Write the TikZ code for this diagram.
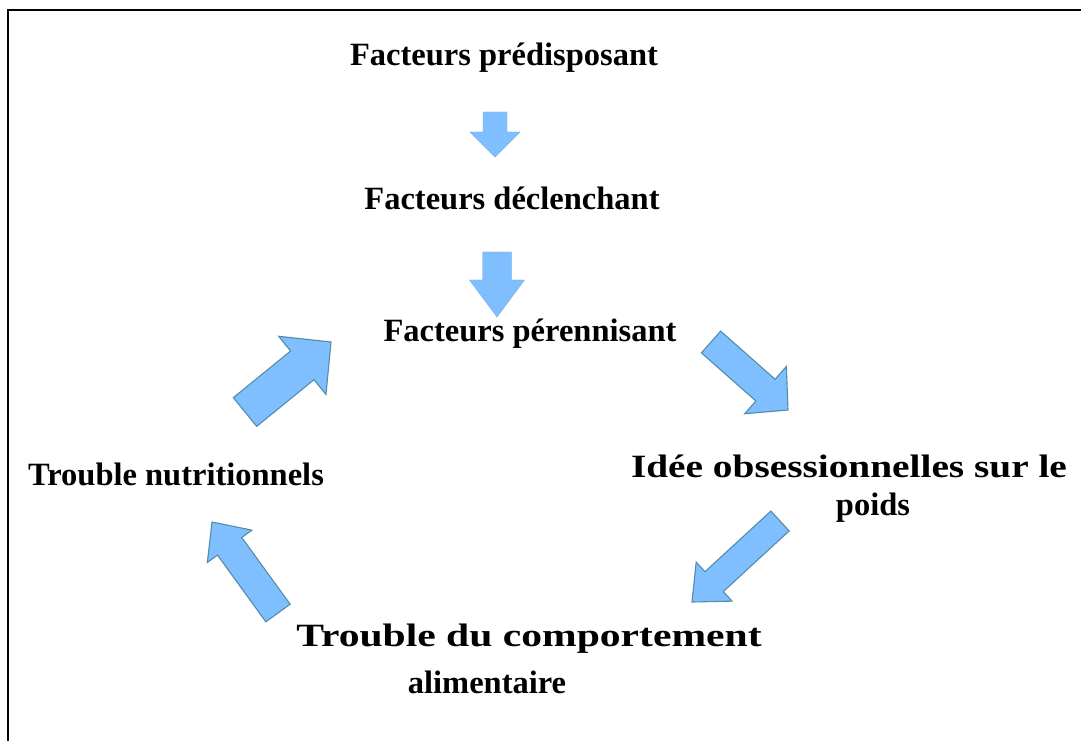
\documentclass[tikz,border=0pt]{standalone}
\usepackage{fontspec}
\usepackage{graphicx}
\setmainfont{Liberation Serif}
\usetikzlibrary{calc}
\definecolor{arrowfill}{RGB}{128,191,255}
\definecolor{arrowline}{RGB}{84,140,168}
\tikzset{
  lbl/.style={font=\bfseries\fontsize{32.5}{38}\selectfont, inner sep=0pt, anchor=base, align=center},
  blk/.style={fill=arrowfill, draw=arrowline, line width=1.1pt, line join=miter},
  blksoft/.style={fill=arrowfill, draw=arrowfill!90!black, line width=0.4pt},
}
% #1 style, #2 tail, #3 tip, #4 shaft width, #5 head width, #6 head length
\newcommand{\blockarrow}[6]{%
  \draw[#1] let \p1=($(#3)-(#2)$), \n1={atan2(\y1,\x1)}, \n2={veclen(\x1,\y1)} in
    ($(#2)+(\n1+90:#4/2)$) --
    ($(#2)+(\n1:{\n2-#6})+(\n1+90:#4/2)$) --
    ($(#2)+(\n1:{\n2-#6})+(\n1+90:#5/2)$) --
    (#3) --
    ($(#2)+(\n1:{\n2-#6})+(\n1-90:#5/2)$) --
    ($(#2)+(\n1:{\n2-#6})+(\n1-90:#4/2)$) --
    ($(#2)+(\n1-90:#4/2)$) -- cycle;}
\begin{document}
\begin{tikzpicture}[x=1pt,y=1pt]
\useasboundingbox (0,0) rectangle (1081,740);
\fill[white] (0,0) rectangle (1081,740);
% frame (only top and left edges are visible)
\draw[line width=2.8pt] (8,-5) -- (8,730) -- (1090,730);

% labels
\node[lbl] (pre) at (504,674) {Facteurs prédisposant};
\node[lbl] (dec) at (512,530) {Facteurs déclenchant};
\node[lbl] (per) at (530,399) {Facteurs pérennisant};
\node[lbl] (idee) at (849,225) {\scalebox{1.21}[1]{Idée obsessionnelles sur le}\\[0pt]\hspace*{48pt}poids};
\node[lbl] (tca) at (529,47) {\scalebox{1.28}[1]{Trouble du comportement}\\[9pt]alimentaire\hspace*{84pt}};
\node[lbl] (nut) at (176,255) {Trouble nutritionnels};

% coordinates of the block arrows
\coordinate (a1t) at (495,628); \coordinate (a1h) at (495,583);
\coordinate (a2t) at (497,488); \coordinate (a2h) at (497,423);
\coordinate (a3t) at (711,398); \coordinate (a3h) at (788,330);
\coordinate (a4t) at (780,219); \coordinate (a4h) at (692,138);
\coordinate (a5t) at (278,127); \coordinate (a5h) at (212,218);
\coordinate (a6t) at (245,328); \coordinate (a6h) at (331,398);

\blockarrow{blksoft}{a1t}{a1h}{24}{50}{25}
\blockarrow{blksoft}{a2t}{a2h}{29}{55}{37}
\blockarrow{blk}{a3t}{a3h}{29}{63}{30}
\blockarrow{blk}{a4t}{a4h}{27}{53}{30}
\blockarrow{blk}{a5t}{a5h}{30}{55}{30}
\blockarrow{blk}{a6t}{a6h}{37}{75}{37}
\end{tikzpicture}
\end{document}
